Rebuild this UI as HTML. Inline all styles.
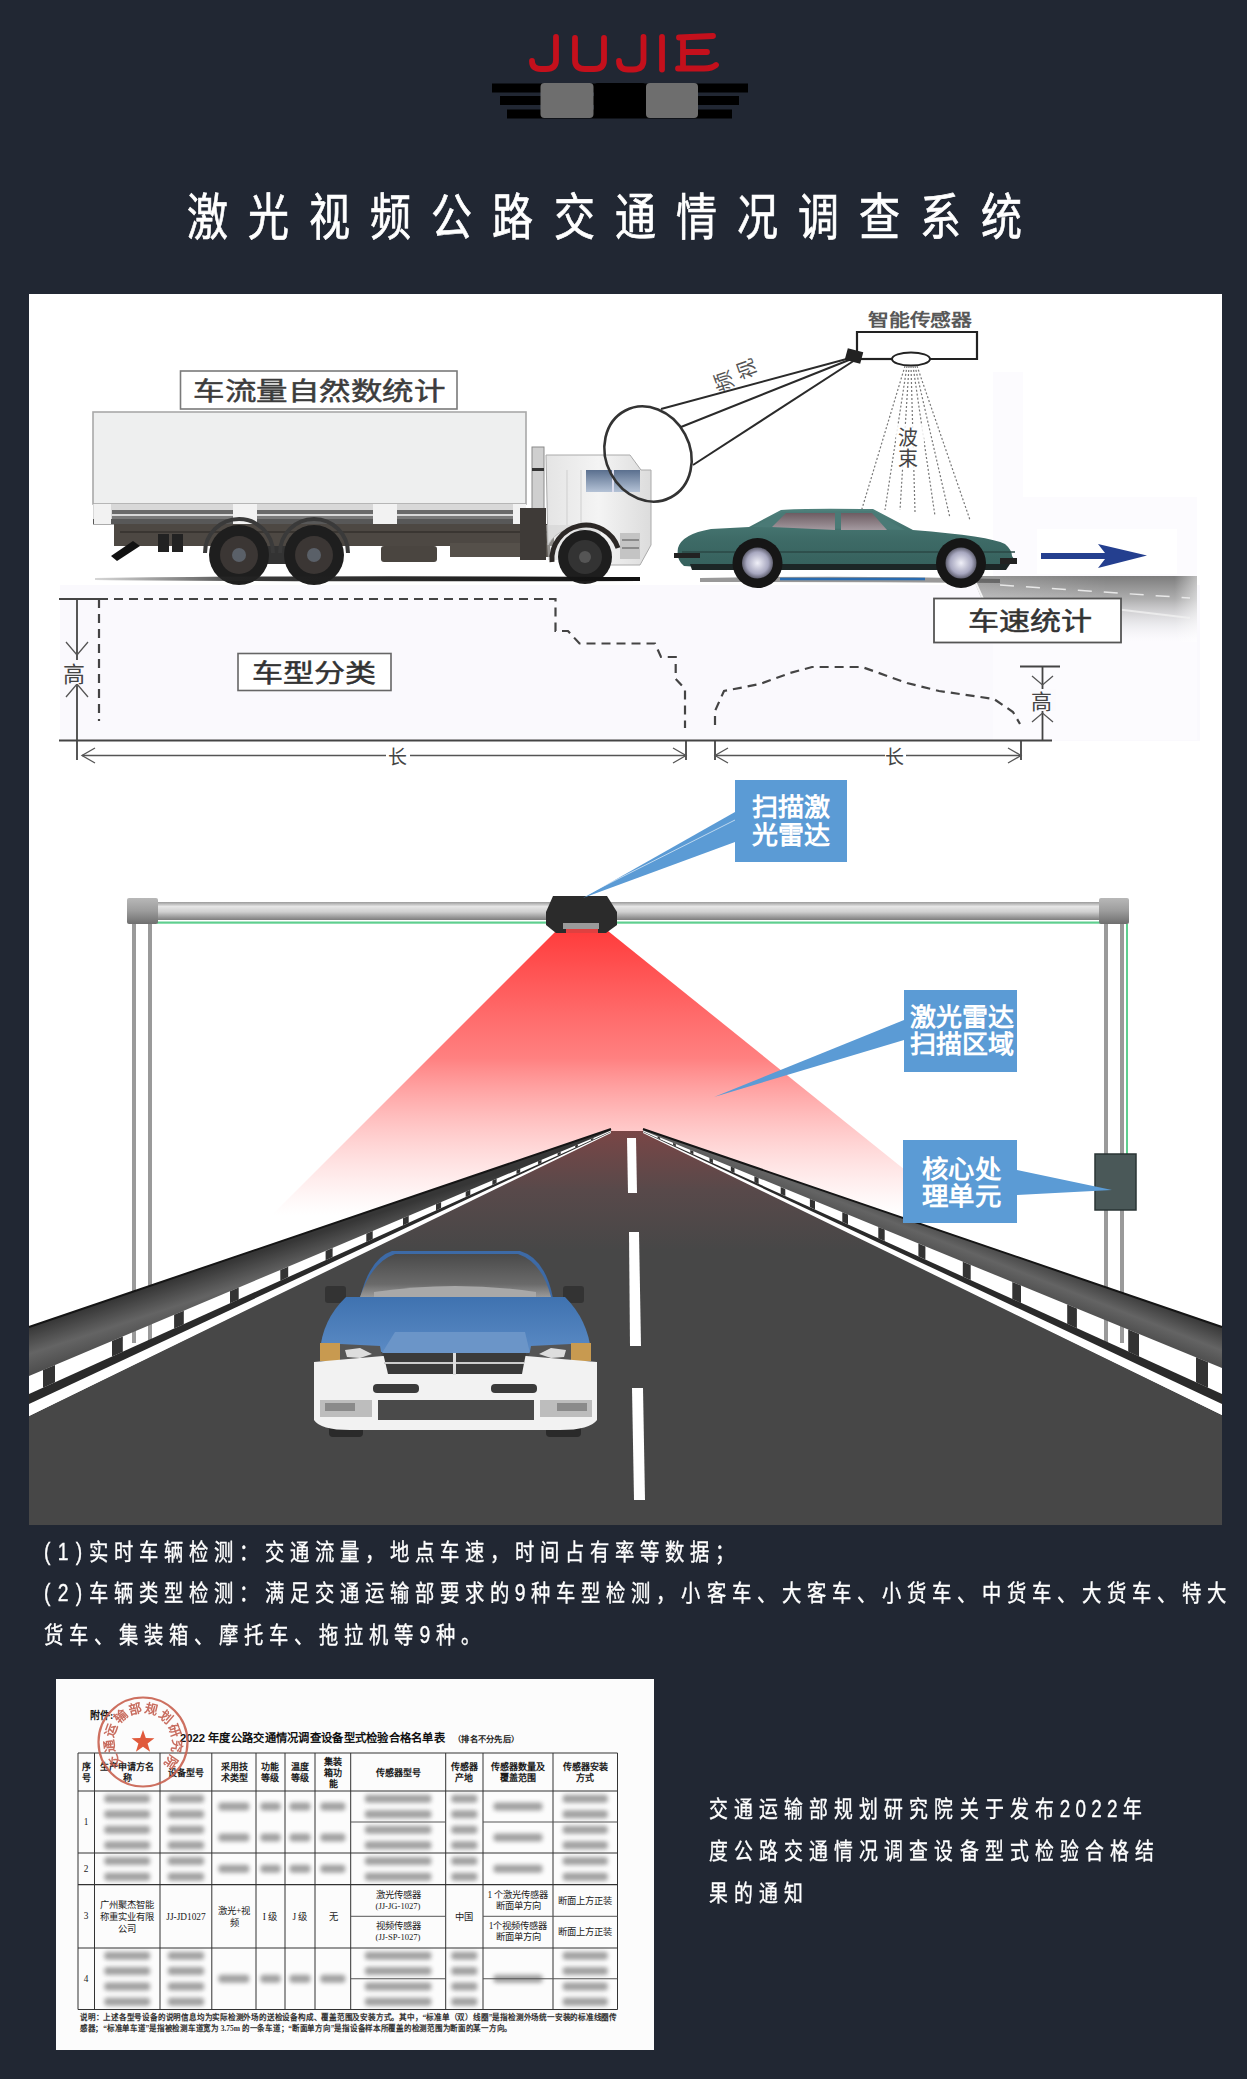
<!DOCTYPE html>
<html lang="zh-CN"><head><meta charset="utf-8">
<style>
html,body{margin:0;padding:0}
body{width:1247px;height:2079px;background:#212733;position:relative;overflow:hidden;font-family:"Liberation Sans",sans-serif}
.abs{position:absolute}
#title{left:187px;top:186px;font-size:50px;color:#fff;-webkit-text-stroke:0.7px #fff;letter-spacing:24.5px;white-space:nowrap;line-height:64px;transform:scaleX(0.82);transform-origin:0 0}
.para{position:absolute;left:44px;color:#fff;font-size:23px;font-weight:500;-webkit-text-stroke:0.35px #fff;letter-spacing:6.8px;white-space:nowrap;line-height:30px;transform:scaleX(0.84);transform-origin:0 0}
.rt{position:absolute;left:709px;color:#fff;font-size:23px;font-weight:500;-webkit-text-stroke:0.35px #fff;letter-spacing:7.55px;white-space:nowrap;line-height:30px;transform:scaleX(0.82);transform-origin:0 0}
svg{position:absolute;left:0;top:0}
</style></head><body>
<svg width="1247" height="2079" viewBox="0 0 1247 2079">
<defs>
<filter id="blur2" x="-20%" y="-50%" width="140%" height="200%"><feGaussianBlur stdDeviation="2"/></filter>
</defs>
<g id="logo">
  <rect x="492" y="83.5" width="256" height="9" fill="#000"/>
  <rect x="500" y="96" width="239" height="9" fill="#000"/>
  <rect x="507" y="109.5" width="225" height="9" fill="#000"/>
  <rect x="540.5" y="83" width="53" height="35" rx="4" fill="#6e6e6e"/>
  <rect x="594" y="83" width="52" height="35" rx="4" fill="#000"/>
  <rect x="646" y="83" width="52" height="35" rx="4" fill="#6e6e6e"/>
  <g fill="none" stroke="#c4101c" stroke-width="5.8" stroke-linecap="round" stroke-linejoin="round">
    <path d="M556 37 L556 60 Q556 69 546 69 L541 69 Q532 69 532 61"/>
    <path d="M575 38 L575 60 Q575 69 585 69 L594 69 Q604 69 604 60 L604 38"/>
    <path d="M643.5 37 L643.5 60 Q643.5 69.5 633 69.5 L628 69.5 Q619 69.5 619 61"/>
    <path d="M662 37 L662 69.5"/>
    <path d="M683 38 L683 68.5 M679 37.5 L713 36 M683 52 L707 52 M678 68.5 L704 68.5 Q712 68.5 716 65"/>
  </g>
</g>
<rect x="29" y="294" width="1193" height="1231" fill="#fff"/>
<!-- ===== TOP ILLUSTRATION ===== -->
<g id="top">
  <!-- faint background tints -->
  <rect x="60" y="585" width="1140" height="156" fill="#faf9fd"/>
  <rect x="993" y="372" width="30" height="125" fill="#fcfbfe"/><rect x="993" y="497" width="204" height="243" fill="#fcfbfe"/>
  <rect x="1037" y="529" width="140" height="45" fill="#fff"/>
  <!-- road gradient on right -->
  <defs>
    <linearGradient id="roadR" x1="0" y1="0" x2="1" y2="0">
      <stop offset="0" stop-color="#ffffff" stop-opacity="0"/>
      <stop offset="0.35" stop-color="#9a9a9a" stop-opacity="0.7"/>
      <stop offset="1" stop-color="#c8c8c8" stop-opacity="0.9"/>
    </linearGradient>
    <linearGradient id="roadRv" x1="0" y1="0" x2="0" y2="1">
      <stop offset="0" stop-color="#fff" stop-opacity="0"/>
      <stop offset="1" stop-color="#f6f5fa" stop-opacity="1"/>
    </linearGradient>
    <linearGradient id="shadowG" x1="0" y1="0" x2="1" y2="0">
      <stop offset="0" stop-color="#333" stop-opacity="0.2"/>
      <stop offset="0.3" stop-color="#222" stop-opacity="0.9"/>
      <stop offset="1" stop-color="#111" stop-opacity="1"/>
    </linearGradient>
    <linearGradient id="cabG" x1="0" y1="0" x2="1" y2="0">
      <stop offset="0" stop-color="#e4e4e4"/>
      <stop offset="0.5" stop-color="#f4f4f4"/>
      <stop offset="1" stop-color="#dcdcdc"/>
    </linearGradient>
    <linearGradient id="winG" x1="0" y1="0" x2="0" y2="1">
      <stop offset="0" stop-color="#5a6f8e"/>
      <stop offset="1" stop-color="#b4c2d6"/>
    </linearGradient>
    <linearGradient id="carWin" x1="0" y1="0" x2="0" y2="1">
      <stop offset="0" stop-color="#6d5c62"/>
      <stop offset="1" stop-color="#a49aa0"/>
    </linearGradient>
    <radialGradient id="hubG" cx="0.5" cy="0.5" r="0.5">
      <stop offset="0" stop-color="#f0f0f8"/>
      <stop offset="0.7" stop-color="#a8a8c0"/>
      <stop offset="1" stop-color="#606070"/>
    </radialGradient>
  </defs>
  <defs>
    <linearGradient id="rdV" gradientUnits="userSpaceOnUse" x1="0" y1="576" x2="0" y2="642">
      <stop offset="0" stop-color="#7c7c7c" stop-opacity="1"/>
      <stop offset="0.35" stop-color="#a0a0a0" stop-opacity="0.85"/>
      <stop offset="1" stop-color="#e8e8ee" stop-opacity="0"/>
    </linearGradient>
    <linearGradient id="rdH" gradientUnits="userSpaceOnUse" x1="975" y1="0" x2="1197" y2="0">
      <stop offset="0" stop-color="#fff" stop-opacity="0.2"/>
      <stop offset="0.6" stop-color="#fff" stop-opacity="0"/>
      <stop offset="0.9" stop-color="#fff" stop-opacity="0"/>
      <stop offset="1" stop-color="#fff" stop-opacity="0.5"/>
    </linearGradient>
  </defs>
  <path d="M972 576 L1197 576 L1197 642 L1000 642 Z" fill="url(#rdV)"/>
  <path d="M972 576 L1197 576 L1197 642 L1000 642 Z" fill="url(#rdH)"/>
  <path d="M974 579 L1002 641" stroke="#f4f4f4" stroke-width="2" fill="none"/>
  <path d="M1000 585 L1190 598" stroke="#e8e8e8" stroke-width="1.5" stroke-dasharray="14 12" fill="none"/>
  <path d="M1090 606 L1190 618" stroke="#f0f0f0" stroke-width="2" fill="none" opacity="0.8"/>
  <!-- label 1 -->
  <rect x="180.5" y="371" width="276.5" height="38" fill="#fff" stroke="#7a7a7a" stroke-width="1.6"/>
  <text x="193" y="400" font-family="Liberation Sans" font-size="25" fill="#3c3c3c" stroke="#3c3c3c" stroke-width="0.5" textLength="252" lengthAdjust="spacingAndGlyphs">车流量自然数统计</text>

  <!-- truck cargo box -->
  <rect x="93" y="412" width="433" height="92" fill="#eeefef" stroke="#a8a8a8" stroke-width="1.6"/>
  <rect x="93" y="504" width="433" height="20" fill="#d8d8d8"/>
  <rect x="112" y="510" width="414" height="4" fill="#6a6a6a"/>
  <rect x="112" y="516" width="414" height="3" fill="#7a7a7a"/>
  <rect x="93" y="519" width="433" height="5.5" fill="#585858"/>
  <g fill="#f2f2f2">
    <rect x="94" y="504" width="17" height="20"/>
    <rect x="233" y="504" width="24" height="20"/>
    <rect x="373" y="504" width="24" height="20"/>
    <rect x="513" y="504" width="13" height="20"/>
  </g>
  <!-- chassis -->
  <rect x="114" y="524" width="440" height="22" fill="#4d4843"/>
  <rect x="120" y="531" width="430" height="2" fill="#3a3632"/>
  <path d="M133 541 L140 546 L117 561 L111 556 Z" fill="#111"/>
  <rect x="158" y="534" width="11" height="18" fill="#222"/>
  <rect x="172" y="534" width="11" height="18" fill="#222"/>
  <rect x="381" y="546" width="56" height="16" rx="3" fill="#4a4540"/><rect x="262" y="546" width="30" height="18" fill="#333"/>
  <rect x="450" y="543" width="100" height="14" fill="#55504a"/>
  <!-- wheels -->
  <g>
    <path d="M205 553 A34 34 0 0 1 273 553" fill="none" stroke="#3a3a3a" stroke-width="4"/>
    <path d="M280 553 A34 34 0 0 1 348 553" fill="none" stroke="#3a3a3a" stroke-width="4"/>
    <circle cx="239" cy="555" r="30" fill="#1e1e1e"/>
    <circle cx="239" cy="555" r="19" fill="#3b3634"/>
    <circle cx="239" cy="555" r="7" fill="#5a6068"/>
    <circle cx="314" cy="555" r="30" fill="#1e1e1e"/>
    <circle cx="314" cy="555" r="19" fill="#3b3634"/>
    <circle cx="314" cy="555" r="7" fill="#5a6068"/>
  </g>
  <!-- exhaust -->
  <rect x="532" y="447" width="12" height="82" fill="#cfcfcf" stroke="#8a8a8a" stroke-width="1"/>
  <rect x="532" y="468" width="12" height="3" fill="#333"/>
  <!-- cab -->
  <path d="M546 455 L630 455 L641 470 L651 470 L651 545 L640 565 L604 565 A30 30 0 0 0 548 545 Z" fill="url(#cabG)" stroke="#aaa" stroke-width="1"/>
  <rect x="586" y="470" width="54" height="22" fill="url(#winG)"/>
  <rect x="612" y="470" width="2" height="22" fill="#dde"/>
  <path d="M546 525 L600 525 L604 560 L548 560 Z" fill="#cfcfcf" opacity="0.5"/>
  <rect x="620" y="533" width="20" height="26" fill="#c4c4c4"/>
  <path d="M622 540 L639 540 M622 548 L639 548" stroke="#777" stroke-width="1.5"/>
  <path d="M567 470 L567 525 M581 470 L581 525" stroke="#cfcfcf" stroke-width="1"/>
  <path d="M552 562 A34 34 0 0 1 618 548" fill="none" stroke="#2c2826" stroke-width="5"/>
  <rect x="520" y="508" width="26" height="52" fill="#3e3a37"/>
  <circle cx="585" cy="557" r="27" fill="#1e1e1e"/>
  <circle cx="585" cy="557" r="17" fill="#333"/>
  <circle cx="585" cy="557" r="6" fill="#555"/>
  <!-- ground shadow -->
  <path d="M95 578 Q300 575 640 577 L640 581 Q300 582 95 580 Z" fill="url(#shadowG)"/>

  <!-- camera view ellipse + lines -->
  <ellipse cx="648" cy="454" rx="42" ry="49" transform="rotate(-28 648 454)" fill="none" stroke="#333" stroke-width="2.6"/>
  <g stroke="#2a2a2a" stroke-width="2" fill="none">
    <path d="M661 409 L854 357"/>
    <path d="M681 427 L854 358"/>
    <path d="M693 465 L855 360"/>
  </g>
  <text x="0" y="0" font-family="Liberation Sans" font-size="20" fill="#555" text-anchor="middle" dominant-baseline="central" transform="translate(747 369) rotate(-110)">视</text><text x="0" y="0" font-family="Liberation Sans" font-size="20" fill="#555" text-anchor="middle" dominant-baseline="central" transform="translate(724 381) rotate(-110)">频</text>
  <!-- sensor -->
  <text x="868" y="326" font-family="Liberation Sans" font-size="17" font-weight="bold" fill="#585858" textLength="104" lengthAdjust="spacingAndGlyphs">智能传感器</text>
  <path d="M857 355 L857 332 L977 332 L977 359 L930 359" fill="none" stroke="#222" stroke-width="2.2"/>
  <path d="M892 359 L861 359" fill="none" stroke="#222" stroke-width="2.2"/>
  <ellipse cx="911" cy="359" rx="19" ry="6.5" fill="#fff" stroke="#222" stroke-width="2"/>
  <rect x="846" y="350" width="16" height="12" fill="#222" transform="rotate(15 854 356)"/>
  <!-- beams -->
  <g stroke="#777" stroke-width="1.2" stroke-dasharray="2 2" fill="none">
    <path d="M905 366 L861 512"/>
    <path d="M907 366 L885 510"/>
    <path d="M909 366 L900 510"/>
    <path d="M911 366 L915 512"/>
    <path d="M913 366 L935 516"/>
    <path d="M915 366 L950 518"/>
    <path d="M917 366 L970 520"/>
  </g>
  <rect x="896" y="424" width="28" height="44" fill="#fff" opacity="0.85"/>
  <text x="898" y="445" font-family="Liberation Sans" font-size="20" fill="#444">波</text>
  <text x="898" y="466" font-family="Liberation Sans" font-size="20" fill="#444">束</text>

  <!-- car -->
  <defs>
    <linearGradient id="bodyG" x1="0" y1="0" x2="0" y2="1">
      <stop offset="0" stop-color="#4f817c"/>
      <stop offset="0.5" stop-color="#3e6b67"/>
      <stop offset="1" stop-color="#35605c"/>
    </linearGradient>
  </defs>
  <path d="M700 578 Q850 575 1000 579 L1000 583 Q850 582 700 582 Z" fill="#333" opacity="0.5"/>
  <path d="M780 579 L925 579" stroke="#2a6cb0" stroke-width="2.5"/>
  <path d="M678 548 Q682 534 711 529 L749 527 L781 510 Q800 508 873 509 L913 530 Q990 536 1005 544 Q1012 550 1012 556 L1016 562 Q1000 568 985 569 L935 569 L787 569 L730 569 L684 566 Q676 560 678 548 Z" fill="url(#bodyG)"/>
  <path d="M752 527 L783 512 L873 511 L905 530 Z" fill="#4a7a76"/>
  <path d="M772 527 L786 513 L835 513 L835 530 Z" fill="url(#carWin)"/>
  <path d="M841 513 L872 513 L887 530 L841 530 Z" fill="url(#carWin)"/>
  <path d="M682 552 L1015 552" stroke="#2b4846" stroke-width="1.5"/>
  <path d="M674 553 L700 553 L700 558 L674 558 Z" fill="#222"/>
  <path d="M1000 558 L1017 558 L1017 564 L1000 564 Z" fill="#222"/>
  <path d="M690 564 L1010 564 L1006 570 L692 570 Z" fill="#1c2626"/>
  <circle cx="757.5" cy="563" r="25" fill="#161616"/>
  <circle cx="757.5" cy="563" r="15.5" fill="url(#hubG)"/>
  <circle cx="961" cy="563" r="25" fill="#161616"/>
  <circle cx="961" cy="563" r="15.5" fill="url(#hubG)"/>
  <!-- arrow -->
  <path d="M1041 553 L1105 553 L1098 544 L1147 555.5 L1098 568 L1105 559 L1041 559 Z" fill="#243f8f"/>

  <!-- speed label -->
  <rect x="934" y="598.5" width="187" height="44" fill="#fff" stroke="#555" stroke-width="1.8"/>
  <text x="968" y="630" font-family="Liberation Sans" font-size="25" fill="#333" stroke="#333" stroke-width="0.5" textLength="124" lengthAdjust="spacingAndGlyphs">车速统计</text>

  <!-- dimension lines -->
  <g stroke="#444" stroke-width="1.8" fill="none">
    <path d="M59 599 L99 599"/>
    <path d="M59 740.5 L1052 740.5"/>
    <path d="M77 599 L77 740.5"/>
    <path d="M77 740 L77 760"/>
    <path d="M686 740 L686 760"/>
    <path d="M715 740 L715 760"/>
    <path d="M1021 740 L1021 760"/>
    <path d="M1020 666.5 L1060 666.5"/>
    <path d="M1042.5 667 L1042.5 740"/>
  </g>
  <g stroke="#555" stroke-width="1.3" fill="none">
    <path d="M66 642 L77 655 L88 642"/>
    <path d="M66 697 L77 684 L88 697"/>
    <path d="M95 748 L82 755.5 L95 763"/>
    <path d="M673 748 L686 755.5 L673 763"/>
    <path d="M728 748 L715 755.5 L728 763"/>
    <path d="M1008 748 L1021 755.5 L1008 763"/>
    <path d="M82 755.5 L386 755.5"/>
    <path d="M410 755.5 L686 755.5"/>
    <path d="M715 755.5 L885 755.5"/>
    <path d="M906 755.5 L1021 755.5"/>
    <path d="M1032 676 L1042.5 685 L1053 676"/>
    <path d="M1032 722 L1042.5 713 L1053 722"/>
  </g>
  <text x="388" y="764" font-family="Liberation Sans" font-size="19" fill="#444">长</text>
  <text x="885" y="764" font-family="Liberation Sans" font-size="19" fill="#444">长</text>
  <rect x="62" y="660" width="28" height="24" fill="#faf9fd"/>
  <text x="63" y="682" font-family="Liberation Sans" font-size="22" fill="#444">高</text>
  <rect x="1030" y="689" width="26" height="22" fill="#fbfafd"/>
  <text x="1031" y="709" font-family="Liberation Sans" font-size="21" fill="#444">高</text>
  <!-- dashed profiles -->
  <g stroke="#444" stroke-width="2.2" stroke-dasharray="9 6" fill="none">
    <path d="M99 599 L555.5 599 L555.5 631 L568 631 L579.5 643.5 L655 643.5 L661 657 L675.7 657 L675.7 679 L685 689 L685 728"/>
    <path d="M99 599 L99 721"/>
    <path d="M715 725 L715 711 L724 691 L760 684 L790 673 L812 667 L862 667 L907 683 L939 691 L994 699 L1013 712 L1020 724"/>
  </g>
  <rect x="238" y="653.5" width="153" height="37" fill="#fff" stroke="#666" stroke-width="1.6"/>
  <text x="252" y="682" font-family="Liberation Sans" font-size="25" fill="#333" stroke="#333" stroke-width="0.5" textLength="124" lengthAdjust="spacingAndGlyphs">车型分类</text>
</g>

<!-- ===== MIDDLE ILLUSTRATION ===== -->
<g id="mid">
  <defs>
    <linearGradient id="cone" gradientUnits="userSpaceOnUse" x1="0" y1="930" x2="0" y2="1215">
      <stop offset="0" stop-color="#ff3b3b" stop-opacity="1"/>
      <stop offset="0.45" stop-color="#ff6a6a" stop-opacity="0.85"/>
      <stop offset="1" stop-color="#ffb0b0" stop-opacity="0"/>
    </linearGradient>
    <linearGradient id="barG" x1="0" y1="0" x2="0" y2="1">
      <stop offset="0" stop-color="#9a9a9a"/>
      <stop offset="0.25" stop-color="#e6e6e6"/>
      <stop offset="0.55" stop-color="#cfcfcf"/>
      <stop offset="1" stop-color="#7d7d7d"/>
    </linearGradient>
    <linearGradient id="capG" x1="0" y1="0" x2="0" y2="1">
      <stop offset="0" stop-color="#b8b8b8"/>
      <stop offset="0.5" stop-color="#9c9c9c"/>
      <stop offset="1" stop-color="#6e6e6e"/>
    </linearGradient>
    <linearGradient id="roadG" gradientUnits="userSpaceOnUse" x1="0" y1="1130" x2="0" y2="1250">
      <stop offset="0" stop-color="#7a4646"/>
      <stop offset="0.5" stop-color="#58494a"/>
      <stop offset="1" stop-color="#474747"/>
    </linearGradient>
    <linearGradient id="railGL" gradientUnits="userSpaceOnUse" x1="29" y1="1327" x2="45" y2="1376">
      <stop offset="0" stop-color="#363636"/>
      <stop offset="0.5" stop-color="#646464"/>
      <stop offset="1" stop-color="#474747"/>
    </linearGradient>
    <linearGradient id="railGR" gradientUnits="userSpaceOnUse" x1="1222" y1="1327" x2="1206" y2="1368">
      <stop offset="0" stop-color="#363636"/>
      <stop offset="0.5" stop-color="#646464"/>
      <stop offset="1" stop-color="#474747"/>
    </linearGradient>
    <linearGradient id="windG" x1="0" y1="0" x2="0" y2="1">
      <stop offset="0" stop-color="#4a4a4a"/>
      <stop offset="0.7" stop-color="#6a6a6a"/>
      <stop offset="1" stop-color="#9a9a9a"/>
    </linearGradient>
    <linearGradient id="hoodG" x1="0" y1="0" x2="0" y2="1">
      <stop offset="0" stop-color="#3f72b0"/>
      <stop offset="1" stop-color="#5a8ac4"/>
    </linearGradient>
  </defs>

  <!-- red cone -->
  <path d="M556 931 L608 931 L910 1174 L910 1215 L272 1215 Z" fill="url(#cone)"/>

  <!-- road -->
  <path d="M611 1131 L643 1131 L1222 1415 L1222 1525 L29 1525 L29 1416 Z" fill="url(#roadG)"/>
<path d="M29.0 1327.0 L611.0 1129.0 L611.0 1133.0 L29.0 1416.0 Z" fill="#fff"/>
<path d="M1222.0 1327.0 L643.0 1129.0 L643.0 1133.0 L1222.0 1415.0 Z" fill="#fff"/>
  <!-- posts -->
  <g>
    <rect x="132" y="922" width="20" height="421" fill="#fff"/>
    <rect x="132" y="922" width="4" height="421" fill="#9a9a9a"/>
    <rect x="148" y="922" width="4" height="421" fill="#9a9a9a"/>
    <rect x="1104" y="922" width="20" height="421" fill="#fff"/>
    <rect x="1104" y="922" width="4" height="421" fill="#9a9a9a"/>
    <rect x="1120" y="922" width="4" height="421" fill="#9a9a9a"/>
    <rect x="1126" y="924" width="2" height="232" fill="#5fcf8f"/>
  </g>
<path d="M29.0 1327.0 L611.0 1129.0 L611.0 1130.5 L29.0 1376.0 Z" fill="url(#railGL)"/>
<path d="M29.0 1327.0 L611.0 1129.0" stroke="#151515" stroke-width="2" fill="none"/>
<path d="M43.0 1370.1 L55.0 1365.0 L55.0 1382.3 L43.0 1387.7 Z" fill="#333"/>
<path d="M112.0 1341.0 L122.8 1336.4 L122.8 1351.7 L112.0 1356.6 Z" fill="#333"/>
<path d="M174.1 1314.8 L183.8 1310.7 L183.8 1324.2 L174.1 1328.6 Z" fill="#333"/>
<path d="M230.0 1291.2 L238.7 1287.5 L238.7 1299.4 L230.0 1303.3 Z" fill="#333"/>
<path d="M280.3 1270.0 L288.2 1266.7 L288.2 1277.1 L280.3 1280.7 Z" fill="#333"/>
<path d="M325.6 1250.9 L332.6 1247.9 L332.6 1257.0 L325.6 1260.2 Z" fill="#333"/>
<path d="M366.3 1233.7 L372.7 1231.0 L372.7 1239.0 L366.3 1241.9 Z" fill="#333"/>
<path d="M403.0 1218.2 L408.7 1215.8 L408.7 1222.7 L403.0 1225.3 Z" fill="#333"/>
<path d="M436.0 1204.3 L441.1 1202.1 L441.1 1208.1 L436.0 1210.4 Z" fill="#333"/>
<path d="M465.7 1191.8 L470.3 1189.8 L470.3 1194.9 L465.7 1197.0 Z" fill="#333"/>
<path d="M492.4 1180.5 L496.6 1178.8 L496.6 1183.1 L492.4 1185.0 Z" fill="#333"/>
<path d="M516.5 1170.4 L520.2 1168.8 L520.2 1172.4 L516.5 1174.1 Z" fill="#333"/>
<path d="M538.1 1161.2 L541.5 1159.8 L541.5 1162.8 L538.1 1164.4 Z" fill="#333"/>
<path d="M557.6 1153.0 L560.7 1151.7 L560.7 1154.2 L557.6 1155.6 Z" fill="#333"/>
<path d="M575.2 1145.6 L577.9 1144.5 L577.9 1146.4 L575.2 1147.7 Z" fill="#333"/>
<path d="M590.9 1139.0 L593.4 1137.9 L593.4 1139.4 L590.9 1140.5 Z" fill="#333"/>
<path d="M29.0 1394.0 L611.0 1131.5 L611.0 1132.0 L29.0 1404.0 Z" fill="#2a2a2a"/>
<path d="M1222.0 1327.0 L643.0 1129.0 L643.0 1130.5 L1222.0 1368.0 Z" fill="url(#railGR)"/>
<path d="M1222.0 1327.0 L643.0 1129.0" stroke="#151515" stroke-width="2" fill="none"/>
<path d="M1208.0 1362.3 L1196.0 1357.3 L1196.0 1382.2 L1208.0 1387.7 Z" fill="#333"/>
<path d="M1139.0 1334.0 L1128.2 1329.5 L1128.2 1351.5 L1139.0 1356.4 Z" fill="#333"/>
<path d="M1076.9 1308.5 L1067.2 1304.5 L1067.2 1323.8 L1076.9 1328.2 Z" fill="#333"/>
<path d="M1021.0 1285.6 L1012.3 1282.0 L1012.3 1298.9 L1021.0 1302.9 Z" fill="#333"/>
<path d="M970.7 1264.9 L962.8 1261.7 L962.8 1276.5 L970.7 1280.1 Z" fill="#333"/>
<path d="M925.4 1246.4 L918.4 1243.4 L918.4 1256.3 L925.4 1259.5 Z" fill="#333"/>
<path d="M884.7 1229.6 L878.3 1227.0 L878.3 1238.2 L884.7 1241.1 Z" fill="#333"/>
<path d="M848.0 1214.6 L842.3 1212.2 L842.3 1221.8 L848.0 1224.5 Z" fill="#333"/>
<path d="M815.0 1201.1 L809.9 1198.9 L809.9 1207.1 L815.0 1209.5 Z" fill="#333"/>
<path d="M785.3 1188.9 L780.7 1187.0 L780.7 1193.9 L785.3 1196.0 Z" fill="#333"/>
<path d="M758.6 1177.9 L754.4 1176.2 L754.4 1182.0 L758.6 1183.9 Z" fill="#333"/>
<path d="M734.5 1168.0 L730.8 1166.5 L730.8 1171.3 L734.5 1173.0 Z" fill="#333"/>
<path d="M712.9 1159.2 L709.5 1157.8 L709.5 1161.6 L712.9 1163.2 Z" fill="#333"/>
<path d="M693.4 1151.2 L690.3 1149.9 L690.3 1153.0 L693.4 1154.3 Z" fill="#333"/>
<path d="M675.8 1144.0 L673.1 1142.8 L673.1 1145.1 L675.8 1146.4 Z" fill="#333"/>
<path d="M660.1 1137.5 L657.6 1136.5 L657.6 1138.1 L660.1 1139.2 Z" fill="#333"/>
<path d="M1222.0 1394.0 L643.0 1131.5 L643.0 1132.0 L1222.0 1404.0 Z" fill="#2a2a2a"/>
  <!-- gantry bar -->
  <rect x="150" y="902" width="955" height="18" fill="url(#barG)"/>
  <rect x="157" y="921.5" width="970" height="2.2" fill="#5fcf8f"/>
  <rect x="127" y="898" width="31" height="26" rx="2" fill="url(#capG)"/>
  <rect x="1099" y="898" width="30" height="26" rx="2" fill="url(#capG)"/>
  <!-- lidar device -->
  <path d="M553 896 L607 896 L617 912 L617 925 L606 933 L556 933 L546 925 L546 912 Z" fill="#2b2b2b"/>
  <rect x="563" y="923" width="36" height="6" fill="#9a9a9a"/>
  <rect x="566" y="929" width="32" height="4" fill="#e04040"/>

  <!-- callout 1 -->
  <path d="M735 812 L735 842 L583 898 Z" fill="#5b9bd5"/>
  <path d="M735 820 L590 893" stroke="#fff" stroke-width="1" opacity="0.6"/>
  <rect x="735" y="780" width="112" height="82" fill="#5b9bd5"/>
  <text x="752" y="816" font-family="Liberation Sans" font-size="25" font-weight="bold" fill="#fff" textLength="78" lengthAdjust="spacingAndGlyphs">扫描激</text>
  <text x="752" y="844" font-family="Liberation Sans" font-size="25" font-weight="bold" fill="#fff" textLength="78" lengthAdjust="spacingAndGlyphs">光雷达</text>

  <!-- callout 2 -->
  <path d="M904 1020 L904 1040 L714 1097 Z" fill="#5b9bd5"/>
  <rect x="904" y="990" width="113" height="82" fill="#5b9bd5"/>
  <text x="910" y="1026" font-family="Liberation Sans" font-size="25" font-weight="bold" fill="#fff" textLength="104" lengthAdjust="spacingAndGlyphs">激光雷达</text>
  <text x="910" y="1053" font-family="Liberation Sans" font-size="25" font-weight="bold" fill="#fff" textLength="104" lengthAdjust="spacingAndGlyphs">扫描区域</text>

  <!-- center dashes -->
  <path d="M627 1138 L636 1138 L637 1193 L628 1193 Z" fill="#fff"/>
  <path d="M629 1232 L639 1232 L641 1346 L630 1346 Z" fill="#fff"/>
  <path d="M632 1388 L643 1388 L645 1500 L634 1500 Z" fill="#fff"/>

  <!-- callout 3 -->
  <rect x="1095" y="1154" width="41" height="56" fill="#4a5858" stroke="#2a3434" stroke-width="1.5"/>
  <path d="M1017 1170 L1017 1195 L1112 1190 Z" fill="#5b9bd5"/>
  <rect x="903" y="1140" width="114" height="83" fill="#5b9bd5"/>
  <text x="922" y="1178" font-family="Liberation Sans" font-size="25" font-weight="bold" fill="#fff" textLength="79" lengthAdjust="spacingAndGlyphs">核心处</text>
  <text x="922" y="1205" font-family="Liberation Sans" font-size="25" font-weight="bold" fill="#fff" textLength="79" lengthAdjust="spacingAndGlyphs">理单元</text>

  <!-- car -->
  <g id="car2">
    <rect x="329" y="1420" width="34" height="17" rx="4" fill="#2a2a2a"/>
    <rect x="546" y="1420" width="35" height="17" rx="4" fill="#2a2a2a"/>
    <path d="M360 1298 Q370 1258 392 1251 L520 1251 Q545 1258 553 1298 Z" fill="#3d6aa6"/>
    <path d="M360 1297 Q372 1262 395 1254 L518 1254 Q542 1262 551 1297 Z" fill="url(#windG)"/>
    <path d="M374 1292 Q455 1280 536 1292 L536 1297 L374 1297 Z" fill="#a8a8a8"/>
    <rect x="325" y="1286" width="21" height="17" rx="3" fill="#333"/>
    <rect x="563" y="1286" width="21" height="17" rx="3" fill="#333"/>
    <path d="M346 1297 L565 1297 Q588 1320 591 1352 L320 1352 Q322 1320 346 1297 Z" fill="url(#hoodG)"/>
    <path d="M395 1332 L525 1332 L530 1353 L382 1353 Z" fill="#6b95c8"/>
    <rect x="320" y="1343" width="20" height="18" fill="#c89a50"/>
    <rect x="571" y="1343" width="20" height="18" fill="#c89a50"/>
    <path d="M340 1344 L380 1346 L383 1362 L340 1362 Z" fill="#555"/>
    <path d="M571 1344 L531 1346 L528 1362 L571 1362 Z" fill="#555"/>
    <path d="M345 1350 L360 1348 L372 1354 L360 1358 L347 1357 Z" fill="#ddd"/>
    <path d="M566 1350 L551 1348 L539 1354 L551 1358 L564 1357 Z" fill="#ddd"/>
    <path d="M314 1362 L383 1356 L526 1356 L597 1362 L597 1420 Q590 1430 560 1430 L350 1430 Q320 1430 314 1420 Z" fill="#f2f2f2"/>
    <path d="M383 1353 L526 1353 L522 1374 L388 1374 Z" fill="#3a3a3a"/>
    <rect x="384" y="1362" width="140" height="2" fill="#ccc"/>
    <rect x="453" y="1353" width="3" height="22" fill="#ddd"/>
    <rect x="373" y="1384" width="46" height="9" rx="4" fill="#3a3a3a"/>
    <rect x="491" y="1384" width="46" height="9" rx="4" fill="#3a3a3a"/>
    <rect x="378" y="1400" width="156" height="20" fill="#4a4a4a"/>
    <rect x="320" y="1400" width="52" height="17" fill="#bdbdbd"/>
    <rect x="540" y="1400" width="52" height="17" fill="#bdbdbd"/>
    <rect x="325" y="1403" width="30" height="8" fill="#8a8a8a"/>
    <rect x="557" y="1403" width="30" height="8" fill="#8a8a8a"/>
  </g>
</g>

<g id="doc">
<rect x="56" y="1679" width="598" height="371" fill="#fcfcfc"/>
<rect x="104.3" y="1794.8" width="45.8" height="8.0" rx="3" fill="#7a7a7a" opacity="0.7" filter="url(#blur2)"/>
<rect x="104.3" y="1810.2" width="45.8" height="8.0" rx="3" fill="#7a7a7a" opacity="0.7" filter="url(#blur2)"/>
<rect x="104.3" y="1825.8" width="45.8" height="8.0" rx="3" fill="#7a7a7a" opacity="0.7" filter="url(#blur2)"/>
<rect x="104.3" y="1841.2" width="45.8" height="8.0" rx="3" fill="#7a7a7a" opacity="0.7" filter="url(#blur2)"/>
<rect x="167.8" y="1794.8" width="36.3" height="8.0" rx="3" fill="#7a7a7a" opacity="0.7" filter="url(#blur2)"/>
<rect x="167.8" y="1810.2" width="36.3" height="8.0" rx="3" fill="#7a7a7a" opacity="0.7" filter="url(#blur2)"/>
<rect x="167.8" y="1825.8" width="36.3" height="8.0" rx="3" fill="#7a7a7a" opacity="0.7" filter="url(#blur2)"/>
<rect x="167.8" y="1841.2" width="36.3" height="8.0" rx="3" fill="#7a7a7a" opacity="0.7" filter="url(#blur2)"/>
<rect x="218.4" y="1802.5" width="30.9" height="8.0" rx="3" fill="#7a7a7a" opacity="0.7" filter="url(#blur2)"/>
<rect x="218.4" y="1833.5" width="30.9" height="8.0" rx="3" fill="#7a7a7a" opacity="0.7" filter="url(#blur2)"/>
<rect x="260.4" y="1802.5" width="20.3" height="8.0" rx="3" fill="#7a7a7a" opacity="0.7" filter="url(#blur2)"/>
<rect x="260.4" y="1833.5" width="20.3" height="8.0" rx="3" fill="#7a7a7a" opacity="0.7" filter="url(#blur2)"/>
<rect x="289.5" y="1802.5" width="21.0" height="8.0" rx="3" fill="#7a7a7a" opacity="0.7" filter="url(#blur2)"/>
<rect x="289.5" y="1833.5" width="21.0" height="8.0" rx="3" fill="#7a7a7a" opacity="0.7" filter="url(#blur2)"/>
<rect x="320.4" y="1802.5" width="25.0" height="8.0" rx="3" fill="#7a7a7a" opacity="0.7" filter="url(#blur2)"/>
<rect x="320.4" y="1833.5" width="25.0" height="8.0" rx="3" fill="#7a7a7a" opacity="0.7" filter="url(#blur2)"/>
<rect x="364.9" y="1794.8" width="66.5" height="8.0" rx="3" fill="#7a7a7a" opacity="0.7" filter="url(#blur2)"/>
<rect x="364.9" y="1810.2" width="66.5" height="8.0" rx="3" fill="#7a7a7a" opacity="0.7" filter="url(#blur2)"/>
<rect x="364.9" y="1825.8" width="66.5" height="8.0" rx="3" fill="#7a7a7a" opacity="0.7" filter="url(#blur2)"/>
<rect x="364.9" y="1841.2" width="66.5" height="8.0" rx="3" fill="#7a7a7a" opacity="0.7" filter="url(#blur2)"/>
<rect x="451.3" y="1794.8" width="26.1" height="8.0" rx="3" fill="#7a7a7a" opacity="0.7" filter="url(#blur2)"/>
<rect x="451.3" y="1810.2" width="26.1" height="8.0" rx="3" fill="#7a7a7a" opacity="0.7" filter="url(#blur2)"/>
<rect x="451.3" y="1825.8" width="26.1" height="8.0" rx="3" fill="#7a7a7a" opacity="0.7" filter="url(#blur2)"/>
<rect x="451.3" y="1841.2" width="26.1" height="8.0" rx="3" fill="#7a7a7a" opacity="0.7" filter="url(#blur2)"/>
<rect x="493.5" y="1802.5" width="49.0" height="8.0" rx="3" fill="#7a7a7a" opacity="0.7" filter="url(#blur2)"/>
<rect x="493.5" y="1833.5" width="49.0" height="8.0" rx="3" fill="#7a7a7a" opacity="0.7" filter="url(#blur2)"/>
<rect x="562.7" y="1794.8" width="45.1" height="8.0" rx="3" fill="#7a7a7a" opacity="0.7" filter="url(#blur2)"/>
<rect x="562.7" y="1810.2" width="45.1" height="8.0" rx="3" fill="#7a7a7a" opacity="0.7" filter="url(#blur2)"/>
<rect x="562.7" y="1825.8" width="45.1" height="8.0" rx="3" fill="#7a7a7a" opacity="0.7" filter="url(#blur2)"/>
<rect x="562.7" y="1841.2" width="45.1" height="8.0" rx="3" fill="#7a7a7a" opacity="0.7" filter="url(#blur2)"/>
<rect x="104.3" y="1856.9" width="45.8" height="8.0" rx="3" fill="#7a7a7a" opacity="0.7" filter="url(#blur2)"/>
<rect x="104.3" y="1872.7" width="45.8" height="8.0" rx="3" fill="#7a7a7a" opacity="0.7" filter="url(#blur2)"/>
<rect x="167.8" y="1856.9" width="36.3" height="8.0" rx="3" fill="#7a7a7a" opacity="0.7" filter="url(#blur2)"/>
<rect x="167.8" y="1872.7" width="36.3" height="8.0" rx="3" fill="#7a7a7a" opacity="0.7" filter="url(#blur2)"/>
<rect x="218.4" y="1864.8" width="30.9" height="8.0" rx="3" fill="#7a7a7a" opacity="0.7" filter="url(#blur2)"/>
<rect x="260.4" y="1864.8" width="20.3" height="8.0" rx="3" fill="#7a7a7a" opacity="0.7" filter="url(#blur2)"/>
<rect x="289.5" y="1864.8" width="21.0" height="8.0" rx="3" fill="#7a7a7a" opacity="0.7" filter="url(#blur2)"/>
<rect x="320.4" y="1864.8" width="25.0" height="8.0" rx="3" fill="#7a7a7a" opacity="0.7" filter="url(#blur2)"/>
<rect x="364.9" y="1856.9" width="66.5" height="8.0" rx="3" fill="#7a7a7a" opacity="0.7" filter="url(#blur2)"/>
<rect x="364.9" y="1872.7" width="66.5" height="8.0" rx="3" fill="#7a7a7a" opacity="0.7" filter="url(#blur2)"/>
<rect x="451.3" y="1856.9" width="26.1" height="8.0" rx="3" fill="#7a7a7a" opacity="0.7" filter="url(#blur2)"/>
<rect x="451.3" y="1872.7" width="26.1" height="8.0" rx="3" fill="#7a7a7a" opacity="0.7" filter="url(#blur2)"/>
<rect x="493.5" y="1864.8" width="49.0" height="8.0" rx="3" fill="#7a7a7a" opacity="0.7" filter="url(#blur2)"/>
<rect x="562.7" y="1856.9" width="45.1" height="8.0" rx="3" fill="#7a7a7a" opacity="0.7" filter="url(#blur2)"/>
<rect x="562.7" y="1872.7" width="45.1" height="8.0" rx="3" fill="#7a7a7a" opacity="0.7" filter="url(#blur2)"/>
<rect x="104.3" y="1951.7" width="45.8" height="8.0" rx="3" fill="#7a7a7a" opacity="0.7" filter="url(#blur2)"/>
<rect x="104.3" y="1967.1" width="45.8" height="8.0" rx="3" fill="#7a7a7a" opacity="0.7" filter="url(#blur2)"/>
<rect x="104.3" y="1982.4" width="45.8" height="8.0" rx="3" fill="#7a7a7a" opacity="0.7" filter="url(#blur2)"/>
<rect x="104.3" y="1997.8" width="45.8" height="8.0" rx="3" fill="#7a7a7a" opacity="0.7" filter="url(#blur2)"/>
<rect x="167.8" y="1951.7" width="36.3" height="8.0" rx="3" fill="#7a7a7a" opacity="0.7" filter="url(#blur2)"/>
<rect x="167.8" y="1967.1" width="36.3" height="8.0" rx="3" fill="#7a7a7a" opacity="0.7" filter="url(#blur2)"/>
<rect x="167.8" y="1982.4" width="36.3" height="8.0" rx="3" fill="#7a7a7a" opacity="0.7" filter="url(#blur2)"/>
<rect x="167.8" y="1997.8" width="36.3" height="8.0" rx="3" fill="#7a7a7a" opacity="0.7" filter="url(#blur2)"/>
<rect x="218.4" y="1974.8" width="30.9" height="8.0" rx="3" fill="#7a7a7a" opacity="0.7" filter="url(#blur2)"/>
<rect x="260.4" y="1974.8" width="20.3" height="8.0" rx="3" fill="#7a7a7a" opacity="0.7" filter="url(#blur2)"/>
<rect x="289.5" y="1974.8" width="21.0" height="8.0" rx="3" fill="#7a7a7a" opacity="0.7" filter="url(#blur2)"/>
<rect x="320.4" y="1974.8" width="25.0" height="8.0" rx="3" fill="#7a7a7a" opacity="0.7" filter="url(#blur2)"/>
<rect x="364.9" y="1951.7" width="66.5" height="8.0" rx="3" fill="#7a7a7a" opacity="0.7" filter="url(#blur2)"/>
<rect x="364.9" y="1967.1" width="66.5" height="8.0" rx="3" fill="#7a7a7a" opacity="0.7" filter="url(#blur2)"/>
<rect x="364.9" y="1982.4" width="66.5" height="8.0" rx="3" fill="#7a7a7a" opacity="0.7" filter="url(#blur2)"/>
<rect x="364.9" y="1997.8" width="66.5" height="8.0" rx="3" fill="#7a7a7a" opacity="0.7" filter="url(#blur2)"/>
<rect x="451.3" y="1951.7" width="26.1" height="8.0" rx="3" fill="#7a7a7a" opacity="0.7" filter="url(#blur2)"/>
<rect x="451.3" y="1967.1" width="26.1" height="8.0" rx="3" fill="#7a7a7a" opacity="0.7" filter="url(#blur2)"/>
<rect x="451.3" y="1982.4" width="26.1" height="8.0" rx="3" fill="#7a7a7a" opacity="0.7" filter="url(#blur2)"/>
<rect x="451.3" y="1997.8" width="26.1" height="8.0" rx="3" fill="#7a7a7a" opacity="0.7" filter="url(#blur2)"/>
<rect x="493.5" y="1974.8" width="49.0" height="8.0" rx="3" fill="#7a7a7a" opacity="0.7" filter="url(#blur2)"/>
<rect x="562.7" y="1951.7" width="45.1" height="8.0" rx="3" fill="#7a7a7a" opacity="0.7" filter="url(#blur2)"/>
<rect x="562.7" y="1967.1" width="45.1" height="8.0" rx="3" fill="#7a7a7a" opacity="0.7" filter="url(#blur2)"/>
<rect x="562.7" y="1982.4" width="45.1" height="8.0" rx="3" fill="#7a7a7a" opacity="0.7" filter="url(#blur2)"/>
<rect x="562.7" y="1997.8" width="45.1" height="8.0" rx="3" fill="#7a7a7a" opacity="0.7" filter="url(#blur2)"/>
<line x1="78" y1="1753" x2="617.5" y2="1753" stroke="#333" stroke-width="1.2"/>
<line x1="78" y1="1791" x2="617.5" y2="1791" stroke="#333" stroke-width="1.2"/>
<line x1="78" y1="1853" x2="617.5" y2="1853" stroke="#333" stroke-width="1.2"/>
<line x1="78" y1="1884.6" x2="617.5" y2="1884.6" stroke="#333" stroke-width="1.2"/>
<line x1="78" y1="1948" x2="617.5" y2="1948" stroke="#333" stroke-width="1.2"/>
<line x1="78" y1="2009.5" x2="617.5" y2="2009.5" stroke="#333" stroke-width="1.2"/>
<line x1="78" y1="1753" x2="78" y2="2009.5" stroke="#333" stroke-width="1"/>
<line x1="94.5" y1="1753" x2="94.5" y2="2009.5" stroke="#333" stroke-width="1"/>
<line x1="160" y1="1753" x2="160" y2="2009.5" stroke="#333" stroke-width="1"/>
<line x1="211.8" y1="1753" x2="211.8" y2="2009.5" stroke="#333" stroke-width="1"/>
<line x1="256" y1="1753" x2="256" y2="2009.5" stroke="#333" stroke-width="1"/>
<line x1="285" y1="1753" x2="285" y2="2009.5" stroke="#333" stroke-width="1"/>
<line x1="315" y1="1753" x2="315" y2="2009.5" stroke="#333" stroke-width="1"/>
<line x1="350.7" y1="1753" x2="350.7" y2="2009.5" stroke="#333" stroke-width="1"/>
<line x1="445.7" y1="1753" x2="445.7" y2="2009.5" stroke="#333" stroke-width="1"/>
<line x1="483" y1="1753" x2="483" y2="2009.5" stroke="#333" stroke-width="1"/>
<line x1="553" y1="1753" x2="553" y2="2009.5" stroke="#333" stroke-width="1"/>
<line x1="617.5" y1="1753" x2="617.5" y2="2009.5" stroke="#333" stroke-width="1"/>
<line x1="350.7" y1="1822.0" x2="445.7" y2="1822.0" stroke="#555" stroke-width="1"/>
<line x1="483" y1="1822.0" x2="617.5" y2="1822.0" stroke="#555" stroke-width="1"/>
<line x1="350.7" y1="1916.3" x2="445.7" y2="1916.3" stroke="#555" stroke-width="1"/>
<line x1="483" y1="1916.3" x2="617.5" y2="1916.3" stroke="#555" stroke-width="1"/>
<line x1="350.7" y1="1978.75" x2="445.7" y2="1978.75" stroke="#555" stroke-width="1"/>
<line x1="483" y1="1978.75" x2="617.5" y2="1978.75" stroke="#555" stroke-width="1"/>
<text x="86" y="1770" font-family="Liberation Serif" font-size="9" font-weight="bold" fill="#1a1a1a" text-anchor="middle">序</text>
<text x="86" y="1781" font-family="Liberation Serif" font-size="9" font-weight="bold" fill="#1a1a1a" text-anchor="middle">号</text>
<text x="127" y="1770" font-family="Liberation Serif" font-size="9" font-weight="bold" fill="#1a1a1a" text-anchor="middle">生产申请方名</text>
<text x="127" y="1781" font-family="Liberation Serif" font-size="9" font-weight="bold" fill="#1a1a1a" text-anchor="middle">称</text>
<text x="186" y="1776" font-family="Liberation Serif" font-size="9" font-weight="bold" fill="#1a1a1a" text-anchor="middle">设备型号</text>
<text x="234" y="1770" font-family="Liberation Serif" font-size="9" font-weight="bold" fill="#1a1a1a" text-anchor="middle">采用技</text>
<text x="234" y="1781" font-family="Liberation Serif" font-size="9" font-weight="bold" fill="#1a1a1a" text-anchor="middle">术类型</text>
<text x="270" y="1770" font-family="Liberation Serif" font-size="9" font-weight="bold" fill="#1a1a1a" text-anchor="middle">功能</text>
<text x="270" y="1781" font-family="Liberation Serif" font-size="9" font-weight="bold" fill="#1a1a1a" text-anchor="middle">等级</text>
<text x="300" y="1770" font-family="Liberation Serif" font-size="9" font-weight="bold" fill="#1a1a1a" text-anchor="middle">温度</text>
<text x="300" y="1781" font-family="Liberation Serif" font-size="9" font-weight="bold" fill="#1a1a1a" text-anchor="middle">等级</text>
<text x="333" y="1765" font-family="Liberation Serif" font-size="9" font-weight="bold" fill="#1a1a1a" text-anchor="middle">集装</text>
<text x="333" y="1776" font-family="Liberation Serif" font-size="9" font-weight="bold" fill="#1a1a1a" text-anchor="middle">箱功</text>
<text x="333" y="1787" font-family="Liberation Serif" font-size="9" font-weight="bold" fill="#1a1a1a" text-anchor="middle">能</text>
<text x="398" y="1776" font-family="Liberation Serif" font-size="9" font-weight="bold" fill="#1a1a1a" text-anchor="middle">传感器型号</text>
<text x="464" y="1770" font-family="Liberation Serif" font-size="9" font-weight="bold" fill="#1a1a1a" text-anchor="middle">传感器</text>
<text x="464" y="1781" font-family="Liberation Serif" font-size="9" font-weight="bold" fill="#1a1a1a" text-anchor="middle">产地</text>
<text x="518" y="1770" font-family="Liberation Serif" font-size="9" font-weight="bold" fill="#1a1a1a" text-anchor="middle">传感器数量及</text>
<text x="518" y="1781" font-family="Liberation Serif" font-size="9" font-weight="bold" fill="#1a1a1a" text-anchor="middle">覆盖范围</text>
<text x="585" y="1770" font-family="Liberation Serif" font-size="9" font-weight="bold" fill="#1a1a1a" text-anchor="middle">传感器安装</text>
<text x="585" y="1781" font-family="Liberation Serif" font-size="9" font-weight="bold" fill="#1a1a1a" text-anchor="middle">方式</text>
<text x="86" y="1825" font-family="Liberation Serif" font-size="9.3" font-weight="normal" fill="#1a1a1a" text-anchor="middle">1</text>
<text x="86" y="1872" font-family="Liberation Serif" font-size="9.3" font-weight="normal" fill="#1a1a1a" text-anchor="middle">2</text>
<text x="86" y="1919" font-family="Liberation Serif" font-size="9.3" font-weight="normal" fill="#1a1a1a" text-anchor="middle">3</text>
<text x="86" y="1982" font-family="Liberation Serif" font-size="9.3" font-weight="normal" fill="#1a1a1a" text-anchor="middle">4</text>
<text x="127" y="1908" font-family="Liberation Serif" font-size="9.3" font-weight="normal" fill="#1a1a1a" text-anchor="middle">广州聚杰智能</text>
<text x="127" y="1920" font-family="Liberation Serif" font-size="9.3" font-weight="normal" fill="#1a1a1a" text-anchor="middle">称重实业有限</text>
<text x="127" y="1932" font-family="Liberation Serif" font-size="9.3" font-weight="normal" fill="#1a1a1a" text-anchor="middle">公司</text>
<text x="186" y="1920" font-family="Liberation Serif" font-size="9.3" font-weight="normal" fill="#1a1a1a" text-anchor="middle">JJ-JD1027</text>
<text x="234" y="1914" font-family="Liberation Serif" font-size="9.3" font-weight="normal" fill="#1a1a1a" text-anchor="middle">激光+视</text>
<text x="234" y="1926" font-family="Liberation Serif" font-size="9.3" font-weight="normal" fill="#1a1a1a" text-anchor="middle">频</text>
<text x="270" y="1920" font-family="Liberation Serif" font-size="9.3" font-weight="normal" fill="#1a1a1a" text-anchor="middle">I 级</text>
<text x="300" y="1920" font-family="Liberation Serif" font-size="9.3" font-weight="normal" fill="#1a1a1a" text-anchor="middle">J 级</text>
<text x="333" y="1920" font-family="Liberation Serif" font-size="9.3" font-weight="normal" fill="#1a1a1a" text-anchor="middle">无</text>
<text x="398" y="1898" font-family="Liberation Serif" font-size="9.3" font-weight="normal" fill="#1a1a1a" text-anchor="middle">激光传感器</text>
<text x="398" y="1909" font-family="Liberation Serif" font-size="8.6" font-weight="normal" fill="#1a1a1a" text-anchor="middle">(JJ-JG-1027)</text>
<text x="398" y="1929" font-family="Liberation Serif" font-size="9.3" font-weight="normal" fill="#1a1a1a" text-anchor="middle">视频传感器</text>
<text x="398" y="1940" font-family="Liberation Serif" font-size="8.6" font-weight="normal" fill="#1a1a1a" text-anchor="middle">(JJ-SP-1027)</text>
<text x="464" y="1920" font-family="Liberation Serif" font-size="9.3" font-weight="normal" fill="#1a1a1a" text-anchor="middle">中国</text>
<text x="518" y="1898" font-family="Liberation Serif" font-size="9.3" font-weight="normal" fill="#1a1a1a" text-anchor="middle">1 个激光传感器</text>
<text x="518" y="1909" font-family="Liberation Serif" font-size="9.3" font-weight="normal" fill="#1a1a1a" text-anchor="middle">断面单方向</text>
<text x="518" y="1929" font-family="Liberation Serif" font-size="9.3" font-weight="normal" fill="#1a1a1a" text-anchor="middle">1个视频传感器</text>
<text x="518" y="1940" font-family="Liberation Serif" font-size="9.3" font-weight="normal" fill="#1a1a1a" text-anchor="middle">断面单方向</text>
<text x="585" y="1904" font-family="Liberation Serif" font-size="9.3" font-weight="normal" fill="#1a1a1a" text-anchor="middle">断面上方正装</text>
<text x="585" y="1935" font-family="Liberation Serif" font-size="9.3" font-weight="normal" fill="#1a1a1a" text-anchor="middle">断面上方正装</text>
<text x="180" y="1742" font-family="Liberation Sans" font-size="11" font-weight="bold" fill="#111" textLength="265" lengthAdjust="spacingAndGlyphs">2022 年度公路交通情况调查设备型式检验合格名单表</text>
<text x="453" y="1742" font-family="Liberation Sans" font-size="8" font-weight="bold" fill="#222" textLength="66" lengthAdjust="spacingAndGlyphs">（排名不分先后）</text>
<text x="90" y="1719" font-family="Liberation Serif" font-size="10" font-weight="bold" fill="#1a1a1a" text-anchor="start">附件:</text>
<text x="80" y="2020" font-family="Liberation Serif" font-size="7.8" font-weight="bold" fill="#333" textLength="537" lengthAdjust="spacingAndGlyphs">说明：上述各型号设备的说明信息均为实际检测外场的送检设备构成、覆盖范围及安装方式。其中，“标准单（双）线圈”是指检测外场统一安装的标准线圈传</text>
<text x="80" y="2031" font-family="Liberation Serif" font-size="7.8" font-weight="bold" fill="#333" textLength="432" lengthAdjust="spacingAndGlyphs">感器；“标准单车道”是指被检测车道宽为 3.75m 的一条车道；“断面单方向”是指设备样本所覆盖的检测范围为断面的某一方向。</text>
<g><circle cx="143" cy="1742" r="44.5" fill="none" stroke="#c8604f" stroke-width="2.2" opacity="0.9"/><path d="M143.0 1730.0 L145.8 1738.1 L154.4 1738.3 L147.6 1743.5 L150.1 1751.7 L143.0 1746.8 L135.9 1751.7 L138.4 1743.5 L131.6 1738.3 L140.2 1738.1 Z" fill="#e05a3c"/><text x="115.1" y="1761.5" font-family="Liberation Serif" font-size="13" font-weight="bold" fill="#c05545" opacity="0.85" text-anchor="middle" dominant-baseline="central" transform="rotate(-125.0 115.1 1761.5)">交</text><text x="109.3" y="1746.3" font-family="Liberation Serif" font-size="13" font-weight="bold" fill="#c05545" opacity="0.85" text-anchor="middle" dominant-baseline="central" transform="rotate(-97.2 109.3 1746.3)">通</text><text x="111.2" y="1730.1" font-family="Liberation Serif" font-size="13" font-weight="bold" fill="#c05545" opacity="0.85" text-anchor="middle" dominant-baseline="central" transform="rotate(-69.4 111.2 1730.1)">运</text><text x="120.4" y="1716.6" font-family="Liberation Serif" font-size="13" font-weight="bold" fill="#c05545" opacity="0.85" text-anchor="middle" dominant-baseline="central" transform="rotate(-41.7 120.4 1716.6)">输</text><text x="134.8" y="1709.0" font-family="Liberation Serif" font-size="13" font-weight="bold" fill="#c05545" opacity="0.85" text-anchor="middle" dominant-baseline="central" transform="rotate(-13.9 134.8 1709.0)">部</text><text x="151.2" y="1709.0" font-family="Liberation Serif" font-size="13" font-weight="bold" fill="#c05545" opacity="0.85" text-anchor="middle" dominant-baseline="central" transform="rotate(13.9 151.2 1709.0)">规</text><text x="165.6" y="1716.6" font-family="Liberation Serif" font-size="13" font-weight="bold" fill="#c05545" opacity="0.85" text-anchor="middle" dominant-baseline="central" transform="rotate(41.7 165.6 1716.6)">划</text><text x="174.8" y="1730.1" font-family="Liberation Serif" font-size="13" font-weight="bold" fill="#c05545" opacity="0.85" text-anchor="middle" dominant-baseline="central" transform="rotate(69.4 174.8 1730.1)">研</text><text x="176.7" y="1746.3" font-family="Liberation Serif" font-size="13" font-weight="bold" fill="#c05545" opacity="0.85" text-anchor="middle" dominant-baseline="central" transform="rotate(97.2 176.7 1746.3)">究</text><text x="170.9" y="1761.5" font-family="Liberation Serif" font-size="13" font-weight="bold" fill="#c05545" opacity="0.85" text-anchor="middle" dominant-baseline="central" transform="rotate(125.0 170.9 1761.5)">院</text></g>
</g>

</svg>
<div id="title" class="abs">激光视频公路交通情况调查系统</div>
<div class="para" style="top:1537px"><span style="letter-spacing:8.6px">(1)</span>实时车辆检测：交通流量，地点车速，时间占有率等数据；</div>
<div class="para" style="top:1578px"><span style="letter-spacing:8.6px">(2)</span>车辆类型检测：满足交通运输部要求的9种车型检测，小客车、大客车、小货车、中货车、大货车、特大</div>
<div class="para" style="top:1620px">货车、集装箱、摩托车、拖拉机等9种。</div>
<div class="rt" style="top:1794px">交通运输部规划研究院关于发布<span style="letter-spacing:6.4px">2022</span>年</div>
<div class="rt" style="top:1836px">度公路交通情况调查设备型式检验合格结</div>
<div class="rt" style="top:1878px">果的通知</div>
</body></html>
